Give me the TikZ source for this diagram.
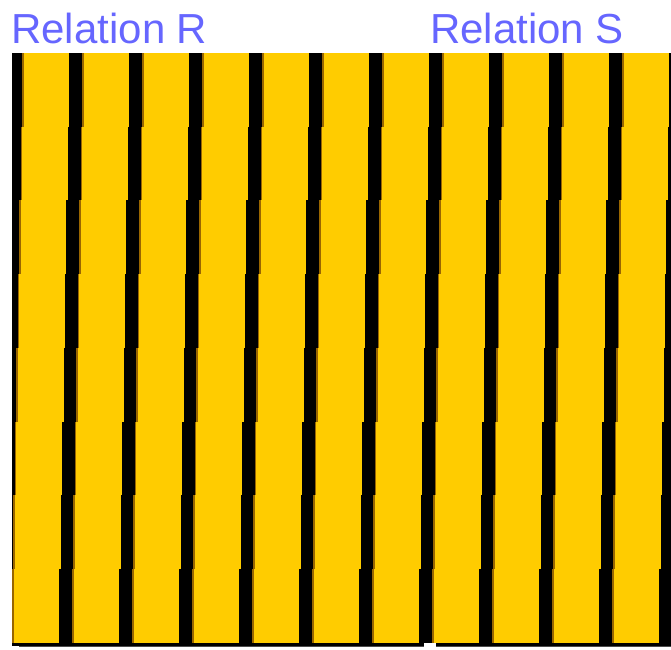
\documentclass[tikz,border=0pt]{standalone}
\usepackage{fontspec}
\setmainfont{Liberation Sans}
\definecolor{cellyellow}{RGB}{255,204,0}
\definecolor{cellbrown}{RGB}{153,102,0}
\definecolor{labelblue}{RGB}{102,102,255}
\begin{document}
\begin{tikzpicture}[x=1pt,y=-1pt,
  relabel/.style={anchor=base west,inner sep=0pt,outer sep=0pt,text=labelblue,font=\fontsize{42}{50}\selectfont},
  cellfill/.style={fill=cellyellow},
  celledge/.style={fill=cellbrown}]
\useasboundingbox (0,0) rectangle (671,649);
% black background
\fill[black] (12,53) rectangle (672,646);
\fill[black!70] (19,646) rectangle (424,647.2);
\fill[black!70] (435.7,645.5) rectangle (672,647.2);
\fill[white] (424,643) rectangle (435.7,649);
% cells: 8 rows x 11 columns, each row shifted a little to the left
\foreach \r in {0,...,7}{
  \foreach \k in {0,...,10}{
    \pgfmathsetmacro{\xl}{22-10/7*\r+60*\k}
    \pgfmathsetmacro{\yt}{53+73.7*\r}
    \fill[celledge] (\xl,\yt) rectangle ++(47.3,73.7);
    \fill[cellfill] (\xl+1.6,\yt) rectangle ++(45.7,73.7);
  }
}
\node[relabel] (relR) at (11.3,43.3) {Relation R};
\node[relabel] (relS) at (430,43.3) {Relation S};
\end{tikzpicture}
\end{document}
